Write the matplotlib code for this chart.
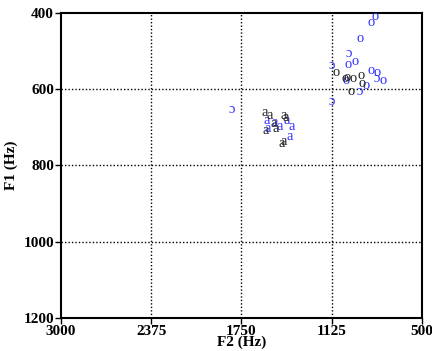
import matplotlib
matplotlib.use("Agg")
import matplotlib.pyplot as plt

# vowel tokens: (F2, F1) in Hz
a_black_f2 = [1587, 1553, 1456, 1442, 1580, 1525, 1511, 1456, 1470]
a_black_f1 = [660, 668, 670, 675, 707, 691, 702, 738, 741]
a_blue_f2 = [1435, 1573, 1518, 1566, 1483, 1400, 1414]
a_blue_f1 = [682, 683, 686, 702, 699, 699, 725]

o_black_f2 = [1096, 922, 1020, 1033, 978, 916, 992]
o_black_f1 = [555, 565, 570, 573, 573, 584, 605]
o_blue_f2 = [826, 853, 929, 1013, 964, 853, 812, 770, 1026, 888]
o_blue_f1 = [410, 426, 468, 534, 526, 550, 557, 578, 576, 589]

oo_blue_f2 = [1006, 1123, 812, 929, 1123, 1816]
oo_blue_f1 = [505, 539, 573, 607, 633, 652]

xticks = [3000, 2375, 1750, 1125, 500]
yticks = [400, 600, 800, 1000, 1200]

plt.rcParams['font.family'] = ['Liberation Serif', 'DejaVu Serif']

fig = plt.figure(figsize=(4.32, 3.51), dpi=100)
ax = fig.add_axes([0.141, 0.094, 0.836, 0.869])

ax.set_xlim(3000, 500)
ax.set_ylim(1200, 400)

for x in xticks[1:-1]:
    ax.axvline(x, color='black', linestyle=(0, (1, 1.5)), linewidth=1, zorder=1)
for y in yticks[1:-1]:
    ax.axhline(y, color='black', linestyle=(0, (1, 1.5)), linewidth=1, zorder=1)

blue = '#3030ff'
dark = '#222222'
fs = 10.5


def put(f2s, f1s, label, color):
    for f2, f1 in zip(f2s, f1s):
        ax.text(f2, f1, label, color=color, fontsize=fs, ha='center', va='center', zorder=3)


put(a_blue_f2, a_blue_f1, 'a', blue)
put(a_black_f2, a_black_f1, 'a', dark)
put(o_blue_f2, o_blue_f1, 'o', blue)
put(oo_blue_f2, oo_blue_f1, '\u0254', blue)
put(o_black_f2, o_black_f1, 'o', dark)

ax.set_xticks(xticks)
ax.set_yticks(yticks)
ax.tick_params(direction='out', length=4, width=1, labelsize=11, pad=1)
for lab in ax.get_xticklabels() + ax.get_yticklabels():
    lab.set_fontweight('bold')
for s in ax.spines.values():
    s.set_linewidth(1.5)

ax.set_xlabel('F2 (Hz)', fontsize=11, fontweight='bold', labelpad=-2)
ax.set_ylabel('F1 (Hz)', fontsize=11, fontweight='bold', labelpad=4)

fig.savefig('out.png', dpi=100)
